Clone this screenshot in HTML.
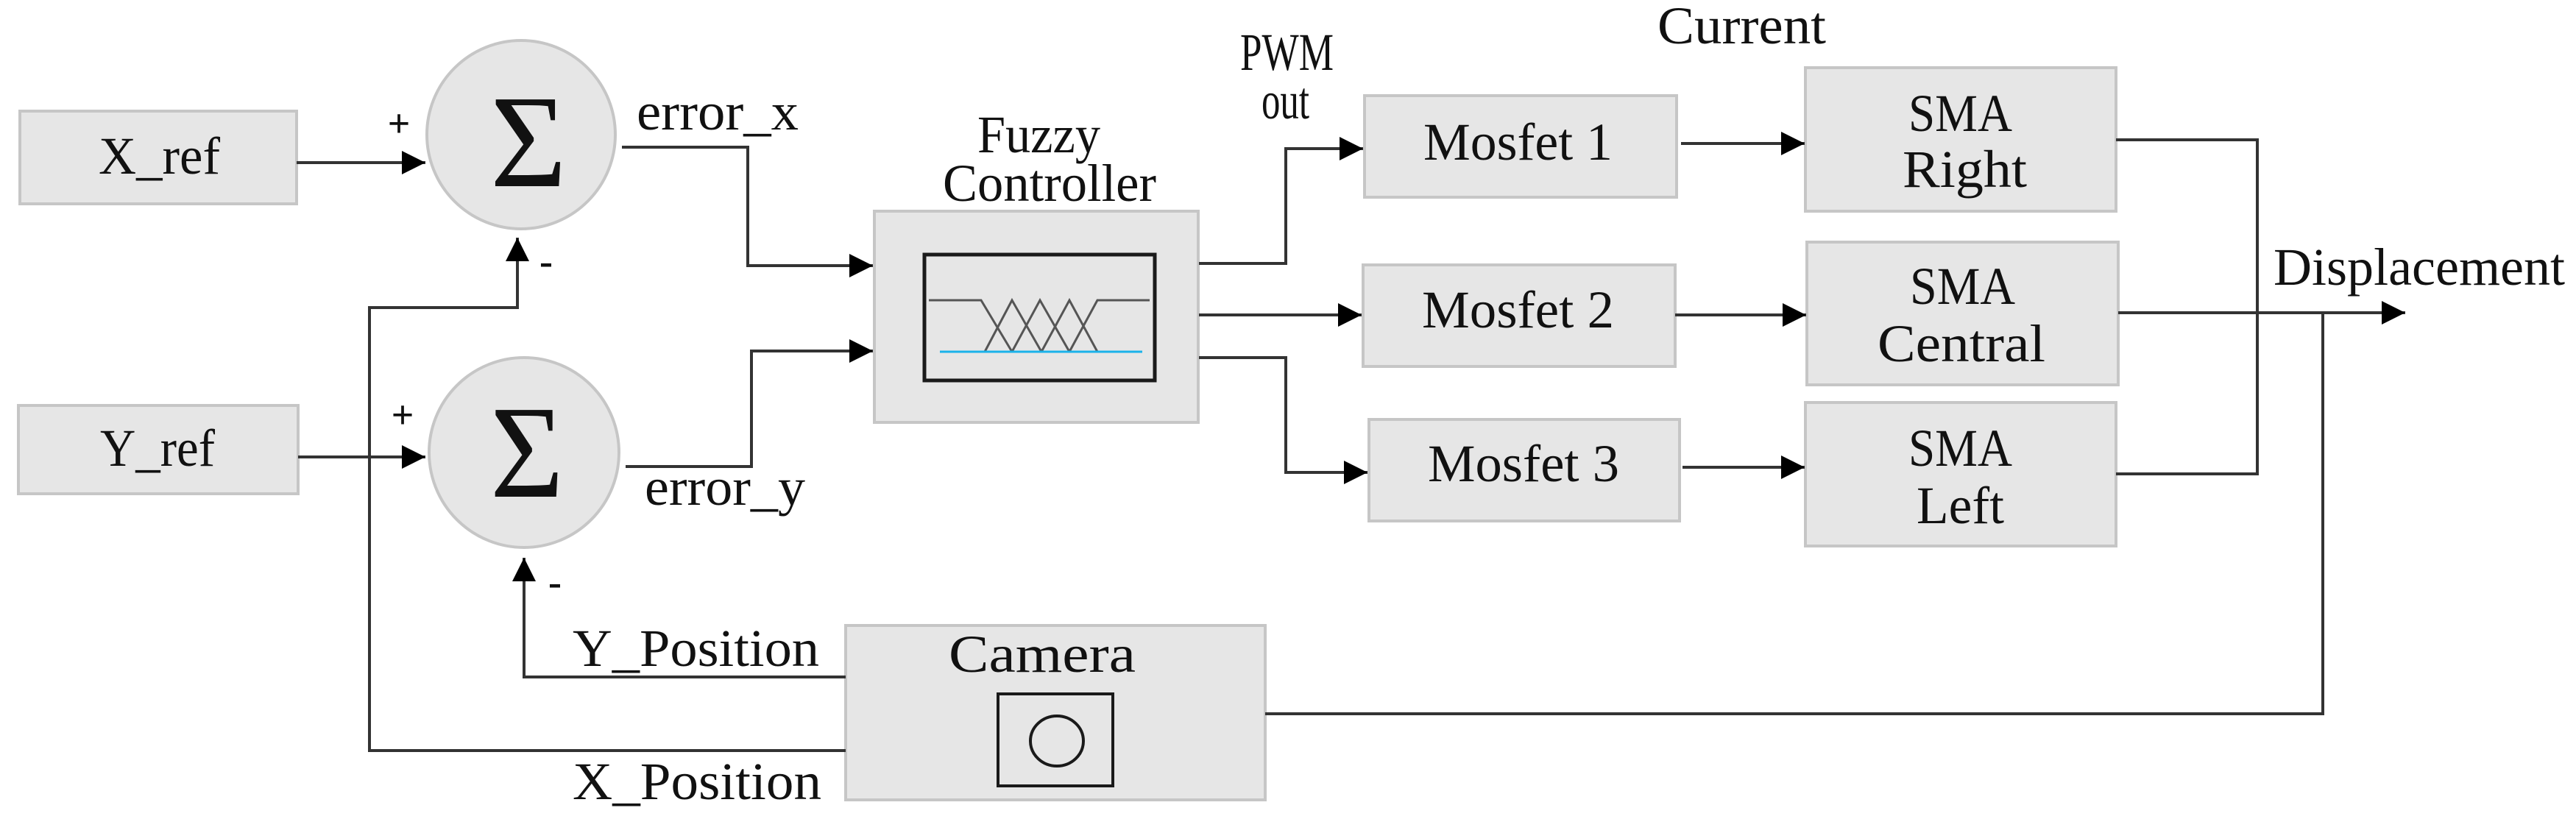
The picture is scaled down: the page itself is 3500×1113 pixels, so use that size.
<!DOCTYPE html>
<html><head><meta charset="utf-8"><style>html,body{margin:0;padding:0;background:#fff}svg{display:block}</style></head>
<body>
<svg width="3500" height="1113" viewBox="0 0 3500 1113" xmlns="http://www.w3.org/2000/svg" font-family="Liberation Serif, serif" fill="#111">
<defs>
<marker id="a" viewBox="0 0 10 10" refX="10" refY="5" markerWidth="32" markerHeight="36" markerUnits="userSpaceOnUse" orient="auto"><path d="M0,0 L10,5 L0,10 z" fill="#000"/></marker>
</defs>
<g fill="#e6e6e6" stroke="#c6c6c6" stroke-width="4">
<rect x="27" y="151" width="376" height="126"/>
<rect x="25" y="551" width="380" height="120"/>
<circle cx="708" cy="183" r="128"/>
<circle cx="712" cy="615" r="129"/>
<rect x="1188" y="287" width="440" height="287"/>
<rect x="1149" y="850" width="570" height="237"/>
<rect x="1854" y="130" width="424" height="138"/>
<rect x="1852" y="360" width="424" height="138"/>
<rect x="1860" y="570" width="422" height="138"/>
<rect x="2453" y="92" width="422" height="195"/>
<rect x="2455" y="329" width="423" height="194"/>
<rect x="2453" y="547" width="422" height="195"/>
</g>
<rect x="1256" y="346" width="313" height="171" fill="#e6e6e6" stroke="#1a1a1a" stroke-width="5"/>
<g fill="none" stroke="#555" stroke-width="3">
<polyline points="1262,408 1333,408 1375,478"/>
<polyline points="1338,478 1375,408 1415,478"/>
<polyline points="1375,478 1413,408 1453,478"/>
<polyline points="1415,478 1453,408 1491,478"/>
<polyline points="1453,478 1491,408 1562,408"/>
</g>
<line x1="1277" y1="478" x2="1552" y2="478" stroke="#1ab2ea" stroke-width="3"/>
<rect x="1356" y="943" width="156" height="125" fill="#e6e6e6" stroke="#1a1a1a" stroke-width="4"/>
<ellipse cx="1436" cy="1007" rx="36" ry="34" fill="none" stroke="#1a1a1a" stroke-width="4"/>
<g fill="none" stroke="#333" stroke-width="4">
<line x1="403" y1="221" x2="578" y2="221" marker-end="url(#a)"/>
<line x1="405" y1="621" x2="578" y2="621" marker-end="url(#a)"/>
<polyline points="1149,1020 502,1020 502,418 703,418 703,323" marker-end="url(#a)"/>
<polyline points="1149,920 712,920 712,758" marker-end="url(#a)"/>
<polyline points="845,200 1016,200 1016,361 1186,361" marker-end="url(#a)"/>
<polyline points="850,634 1021,634 1021,477 1186,477" marker-end="url(#a)"/>
<polyline points="1629,358 1747,358 1747,202 1852,202" marker-end="url(#a)"/>
<line x1="1629" y1="428" x2="1850" y2="428" marker-end="url(#a)"/>
<polyline points="1629,486 1747,486 1747,642 1858,642" marker-end="url(#a)"/>
<line x1="2284" y1="195" x2="2452" y2="195" marker-end="url(#a)"/>
<line x1="2276" y1="428" x2="2454" y2="428" marker-end="url(#a)"/>
<line x1="2286" y1="635" x2="2452" y2="635" marker-end="url(#a)"/>
<polyline points="2875,190 3067,190 3067,644 2875,644"/>
<line x1="2878" y1="425" x2="3268" y2="425" marker-end="url(#a)"/>
<polyline points="1719,970 3156,970 3156,425"/>
</g>
<g font-size="72" dominant-baseline="central">
<text x="134" y="212" textLength="165" lengthAdjust="spacingAndGlyphs">X_ref</text>
<text x="136" y="609" textLength="156" lengthAdjust="spacingAndGlyphs">Y_ref</text>
<text x="865" y="152" textLength="220" lengthAdjust="spacingAndGlyphs">error_x</text>
<text x="876" y="662" textLength="218" lengthAdjust="spacingAndGlyphs">error_y</text>
<text x="1328" y="183" textLength="167" lengthAdjust="spacingAndGlyphs">Fuzzy</text>
<text x="1281" y="249" textLength="290" lengthAdjust="spacingAndGlyphs">Controller</text>
<text x="1685" y="71" textLength="127" lengthAdjust="spacingAndGlyphs">PWM</text>
<text x="1714" y="137" textLength="65" lengthAdjust="spacingAndGlyphs">out</text>
<text x="2252" y="35" textLength="229" lengthAdjust="spacingAndGlyphs">Current</text>
<text x="1934" y="193" textLength="257" lengthAdjust="spacingAndGlyphs">Mosfet 1</text>
<text x="1932" y="421" textLength="261" lengthAdjust="spacingAndGlyphs">Mosfet 2</text>
<text x="1940" y="630" textLength="260" lengthAdjust="spacingAndGlyphs">Mosfet 3</text>
<text x="2593" y="154" textLength="141" lengthAdjust="spacingAndGlyphs">SMA</text>
<text x="2585" y="230" textLength="169" lengthAdjust="spacingAndGlyphs">Right</text>
<text x="2595" y="389" textLength="143" lengthAdjust="spacingAndGlyphs">SMA</text>
<text x="2551" y="467" textLength="228" lengthAdjust="spacingAndGlyphs">Central</text>
<text x="2593" y="609" textLength="141" lengthAdjust="spacingAndGlyphs">SMA</text>
<text x="2604" y="687" textLength="119" lengthAdjust="spacingAndGlyphs">Left</text>
<text x="3089" y="363" textLength="396" lengthAdjust="spacingAndGlyphs">Displacement</text>
<text x="1289" y="889" textLength="254" lengthAdjust="spacingAndGlyphs">Camera</text>
<text x="778" y="881" textLength="335" lengthAdjust="spacingAndGlyphs">Y_Position</text>
<text x="778" y="1062" textLength="338" lengthAdjust="spacingAndGlyphs">X_Position</text>
<text x="542" y="168" font-size="54" font-weight="bold" text-anchor="middle">+</text>
<text x="547" y="564" font-size="54" font-weight="bold" text-anchor="middle">+</text>
<text x="742" y="355" font-size="54" font-weight="bold" text-anchor="middle">-</text>
<text x="754" y="791" font-size="54" font-weight="bold" text-anchor="middle">-</text>
</g>
<text x="666" y="253" font-size="180" textLength="104" lengthAdjust="spacingAndGlyphs">Σ</text>
<text x="666" y="675" font-size="180" textLength="100" lengthAdjust="spacingAndGlyphs">Σ</text>
</svg>
</body></html>
